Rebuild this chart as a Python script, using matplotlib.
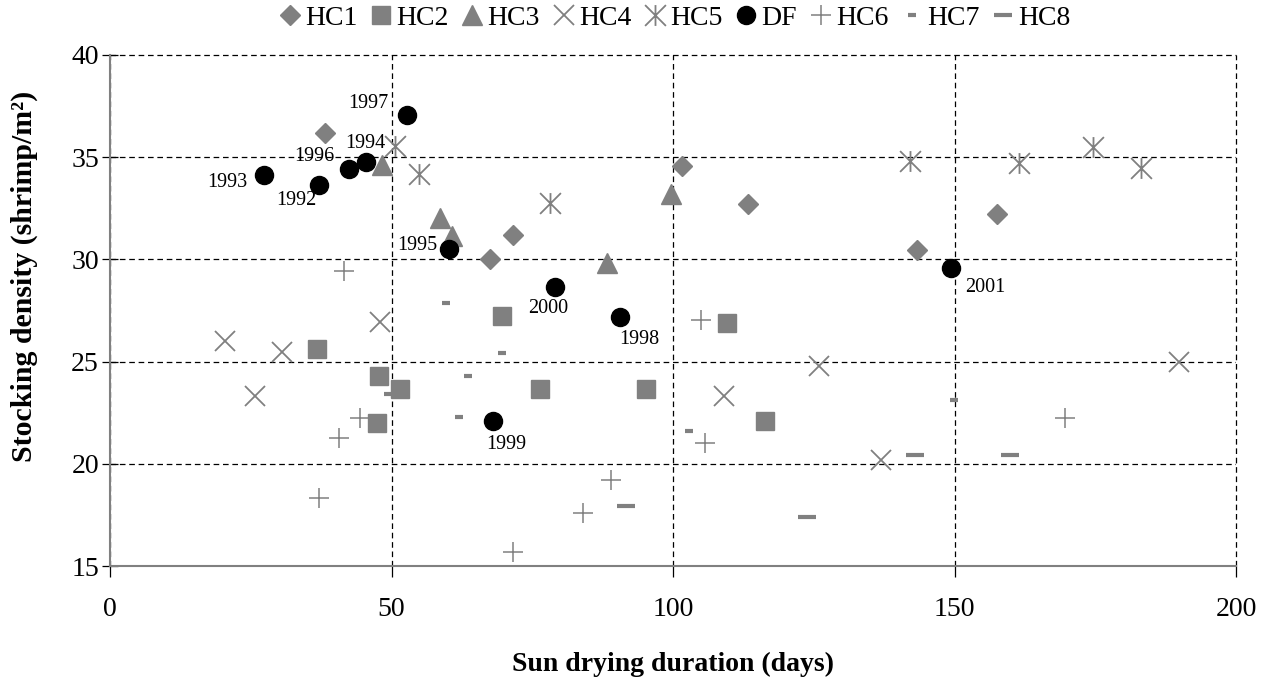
import matplotlib
matplotlib.use("Agg")
import matplotlib.pyplot as plt
from matplotlib.path import Path

plt.rcParams['font.family'] = ['Liberation Serif', 'DejaVu Serif']

gray = "#808080"

# data (days, shrimp/m2)
hc1_x = [38.2, 67.5, 71.5, 101.6, 113.4, 143.4, 157.5]
hc1_y = [36.2, 30.0, 31.2, 34.55, 32.7, 30.48, 32.23]

hc2_x = [36.8, 47.8, 47.5, 51.5, 69.7, 76.4, 95.2, 109.6, 116.3]
hc2_y = [25.6, 24.3, 22.0, 23.66, 27.25, 23.66, 23.66, 26.9, 22.1]

hc3_x = [48.3, 58.6, 60.8, 88.3, 99.6]
hc3_y = [34.62, 32.04, 31.16, 29.8, 33.2]

hc4_x = [20.4, 25.8, 30.5, 48.0, 109.0, 125.9, 136.9, 189.8]
hc4_y = [26.03, 23.3, 25.45, 26.92, 23.34, 24.8, 20.19, 25.0]

hc5_x = [50.6, 54.9, 78.2, 142.0, 161.5, 174.6, 183.1]
hc5_y = [35.55, 34.16, 32.78, 34.82, 34.7, 35.49, 34.45]

df_years = ["1992", "1993", "1994", "1995", "1996", "1997", "1998", "1999", "2000", "2001"]
df_x = [37.1, 27.3, 45.4, 60.2, 42.4, 52.8, 90.5, 68.0, 79.1, 149.3]
df_y = [33.64, 34.11, 34.78, 30.49, 34.41, 37.06, 27.17, 22.08, 28.67, 29.6]

hc6_x = [37.2, 40.6, 41.6, 44.4, 71.6, 84.0, 89.0, 104.9, 105.6, 169.6]
hc6_y = [18.33, 21.28, 29.43, 22.23, 15.67, 17.58, 19.2, 27.04, 21.04, 22.23]

hc7_x = [49.4, 51.9, 59.6, 61.9, 63.6, 69.7, 102.9, 149.9]
hc7_y = [23.4, 23.9, 27.85, 22.27, 24.3, 25.4, 21.6, 23.1]

hc8_x = [91.7, 123.8, 143.0, 159.8]
hc8_y = [17.92, 17.38, 20.42, 20.42]

# label offsets (points) for the DF years
lab_dx = [-16, -26, 0, -23, -25, -28, 14, 10, -5, 25]
lab_dy = [-11, -5, 13, 3, 9, 8, -16, -17, -16, -14]

asterisk = Path([(-1, -1), (1, 1), (-1, 1), (1, -1), (0, -1), (0, 1)],
                [Path.MOVETO, Path.LINETO, Path.MOVETO, Path.LINETO, Path.MOVETO, Path.LINETO])

fig = plt.figure(figsize=(12.73, 6.84), dpi=100)
ax = fig.add_axes([0.0864, 0.1725, 0.8846, 0.7471])

ax.plot(hc1_x, hc1_y, ls="none", marker="D", ms=10, color=gray, mec=gray, label="HC1")
ax.plot(hc2_x, hc2_y, ls="none", marker="s", ms=13, color=gray, mec=gray, label="HC2")
ax.plot(hc3_x, hc3_y, ls="none", marker="^", ms=15, color=gray, mec=gray, label="HC3")
ax.plot(hc4_x, hc4_y, ls="none", marker="x", ms=14, mew=1.3, color=gray, label="HC4")
ax.plot(hc5_x, hc5_y, ls="none", marker=asterisk, ms=15, mew=1.3, color=gray, label="HC5")
ax.plot(df_x, df_y, ls="none", marker="o", ms=13, color="black", label="DF", zorder=4)
ax.plot(hc6_x, hc6_y, ls="none", marker="+", ms=15, mew=1.1, color=gray, label="HC6")
ax.plot(hc7_x, hc7_y, ls="none", marker="_", ms=6, mew=3, color=gray, label="HC7")
ax.plot(hc8_x, hc8_y, ls="none", marker="_", ms=12.5, mew=3, color=gray, label="HC8")

for yr, x, y, dx, dy in zip(df_years, df_x, df_y, lab_dx, lab_dy):
    ax.annotate(yr, (x, y), xytext=(dx, dy), textcoords="offset points",
                ha="center", va="center", fontsize=14.5)

ax.set_xlim(0, 200)
ax.set_ylim(15, 40)
ax.set_xticks([0, 50, 100, 150, 200])
ax.set_yticks([15, 20, 25, 30, 35, 40])
ax.grid(True, color="black", ls=(0, (4.5, 3)), lw=0.9)
ax.set_axisbelow(True)
# keep the outer grid lines (x=200, y=40) fully visible
ax.get_xgridlines()[-1].set_clip_on(False)
ax.get_ygridlines()[-1].set_clip_on(False)

for s in ["top", "right"]:
    ax.spines[s].set_visible(False)
for s in ["left", "bottom"]:
    ax.spines[s].set_color(gray)
    ax.spines[s].set_linewidth(1.5)

ax.tick_params(axis="y", direction="inout", length=12, width=0.9, labelsize=20, pad=2)
ax.tick_params(axis="x", direction="out", length=8, width=0.9, labelsize=20, pad=14)

ax.set_xlabel("Sun drying duration (days)", fontsize=20, fontweight="bold", labelpad=22)
ax.set_ylabel("Stocking density (shrimp/m²)", fontsize=21.5, fontweight="bold")
ax.yaxis.set_label_coords(-0.064, 0.566)

fig.legend(loc="center", bbox_to_anchor=(0.53, 0.973), ncol=9, frameon=False,
           fontsize=20, handlelength=0.8, handletextpad=0.15, columnspacing=0.45,
           numpoints=1, borderaxespad=0)

fig.savefig("out.png", dpi=100)
